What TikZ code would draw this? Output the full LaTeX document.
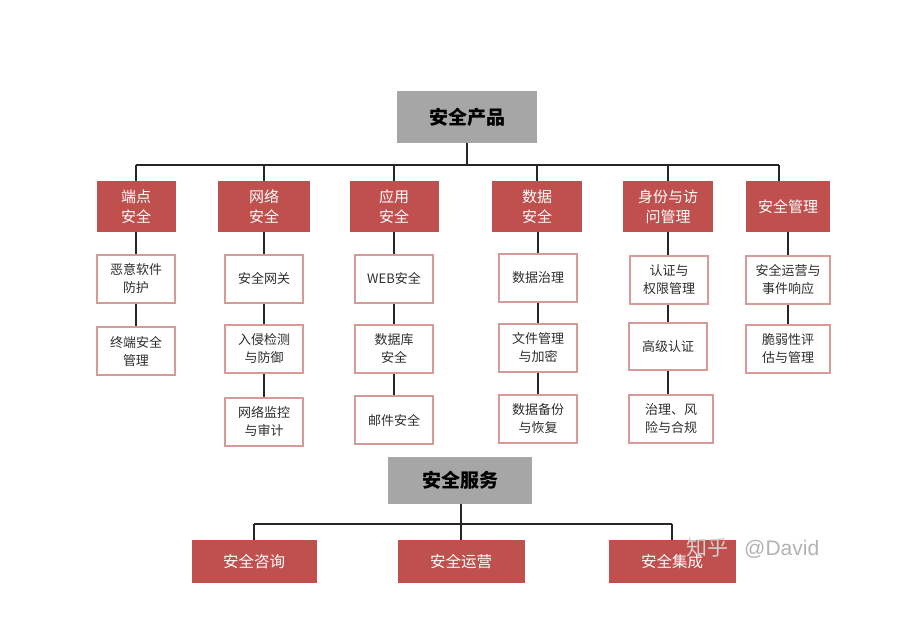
\documentclass[tikz,border=0pt]{standalone}
\usepackage{fontspec}
\setmainfont{Noto Sans CJK SC}
\newfontfamily\wmfont{Liberation Sans}
\definecolor{redbox}{HTML}{C0504D}
\definecolor{graybox}{HTML}{A6A6A6}
\definecolor{pinkline}{HTML}{D79A98}
\definecolor{txtdark}{HTML}{2E2E2E}
\tikzset{
  titlebox/.style={draw=none, fill=graybox, inner sep=0pt, font=\fontsize{19}{22}\selectfont\bfseries, text=black},
  catbox/.style={draw=none, fill=redbox, inner sep=0pt, align=center, text=white, font=\fontsize{15}{20}\selectfont},
  itembox/.style={draw=pinkline, line width=2pt, fill=white, inner sep=0pt, align=center, text=txtdark, font=\fontsize{13}{18}\selectfont},
  srvbox/.style={draw=none, fill=redbox, inner sep=0pt, text=white, font=\fontsize{15.5}{20}\selectfont},
  conn/.style={draw=black!85, line width=1.4pt},
}
\begin{document}
\begin{tikzpicture}[x=1pt,y=-1pt]
\useasboundingbox (0,0) rectangle (903,619);
% top title
\node[titlebox, minimum width=140pt, minimum height=52pt] (p) at (467,117) {安全产品};
% categories
\node[catbox, minimum width=79pt, minimum height=51pt] (a1) at (136,206.5) {端点\\安全};
\node[catbox, minimum width=92pt, minimum height=51pt] (a2) at (264,206.5) {网络\\安全};
\node[catbox, minimum width=89pt, minimum height=51pt] (a3) at (394,206.5) {应用\\安全};
\node[catbox, minimum width=90pt, minimum height=51pt] (a4) at (537,206.5) {数据\\安全};
\node[catbox, minimum width=90pt, minimum height=51pt] (a5) at (668,206.5) {身份与访\\问管理};
\node[catbox, minimum width=84pt, minimum height=51pt] (a6) at (788,206.5) {安全管理};
% items column 1
\node[itembox, minimum width=78pt, minimum height=48pt] (c11) at (136,278.5) {恶意软件\\防护};
\node[itembox, minimum width=78pt, minimum height=48pt] (c12) at (136,351) {终端安全\\管理};
% column 2
\node[itembox, minimum width=78pt, minimum height=48pt] (c21) at (264,278.5) {安全网关};
\node[itembox, minimum width=78pt, minimum height=48pt] (c22) at (264,349) {入侵检测\\与防御};
\node[itembox, minimum width=78pt, minimum height=48pt] (c23) at (264,421.5) {网络监控\\与审计};
% column 3
\node[itembox, minimum width=78pt, minimum height=48pt] (c31) at (394,278.5) {WEB安全};
\node[itembox, minimum width=78pt, minimum height=48pt] (c32) at (394,348.5) {数据库\\安全};
\node[itembox, minimum width=78pt, minimum height=48pt] (c33) at (394,420) {邮件安全};
% column 4
\node[itembox, minimum width=78pt, minimum height=48pt] (c41) at (538,277.5) {数据治理};
\node[itembox, minimum width=78pt, minimum height=48pt] (c42) at (538,347.5) {文件管理\\与加密};
\node[itembox, minimum width=78pt, minimum height=48pt] (c43) at (538,418.5) {数据备份\\与恢复};
% column 5
\node[itembox, minimum width=78pt, minimum height=48pt] (c51) at (669,280) {认证与\\权限管理};
\node[itembox, minimum width=78pt, minimum height=47pt] (c52) at (668,346.5) {高级认证};
\node[itembox, minimum width=84pt, minimum height=48pt] (c53) at (671,418.5) {治理、风\\险与合规};
% column 6
\node[itembox, minimum width=84pt, minimum height=48pt] (c61) at (788,280) {安全运营与\\事件响应};
\node[itembox, minimum width=84pt, minimum height=48pt] (c62) at (788,349) {脆弱性评\\估与管理};
% top connectors
\coordinate (bus) at (467,165);
\coordinate (b6) at (779,165);
\draw[conn] (p.south) -- (p.south |- bus);
\draw[conn] (a1.north |- bus) -- (b6);
\foreach \n in {a1,a2,a3,a4,a5} \draw[conn] (\n.north) -- (\n.north |- bus);
\draw[conn] (b6) -- (b6 |- a6.north);
% column connectors
\draw[conn] (a1.south) -- (c11.north);
\draw[conn] (c11.south) -- (c12.north);
\draw[conn] (a2.south) -- (c21.north);
\draw[conn] (c21.south) -- (c22.north);
\draw[conn] (c22.south) -- (c23.north);
\draw[conn] (a3.south) -- (c31.north);
\draw[conn] (c31.south) -- (c32.north);
\draw[conn] (c32.south) -- (c33.north);
\draw[conn] (a4.south -| c41.north) -- (c41.north);
\draw[conn] (c41.south) -- (c42.north);
\draw[conn] (c42.south) -- (c43.north);
\draw[conn] (a5.south) -- (a5.south |- c51.north);
\draw[conn] (c51.south -| a5.south) -- (c52.north -| a5.south);
\draw[conn] (c52.south -| a5.south) -- (c53.north -| a5.south);
\draw[conn] (a6.south) -- (c61.north);
\draw[conn] (c61.south) -- (c62.north);
% services
\node[titlebox, minimum width=144pt, minimum height=47pt] (s) at (460,480.5) {安全服务};
\node[srvbox, minimum width=125pt, minimum height=43pt] (s1) at (254,561.5) {安全咨询};
\node[srvbox, minimum width=127pt, minimum height=43pt] (s2) at (461,561.5) {安全运营};
\node[srvbox, minimum width=127pt, minimum height=43pt] (s3) at (672,561.5) {安全集成};
\coordinate (sbus) at (460,524);
\draw[conn] (s2.north |- s.south) -- (s2.north |- sbus);
\draw[conn] (s1.north |- sbus) -- (s3.north |- sbus);
\foreach \n in {s1,s2,s3} \draw[conn] (\n.north) -- (\n.north |- sbus);
% watermark
\node[anchor=west, inner sep=0pt, text=white!82!black, font=\fontsize{21}{24}\selectfont] (wm1) at (686,548) {知乎};
\node[anchor=west, inner sep=0pt, text=black!30, font=\wmfont\fontsize{21}{24}\selectfont] (wm2) at (744,549) {@David};
\end{tikzpicture}
\end{document}
